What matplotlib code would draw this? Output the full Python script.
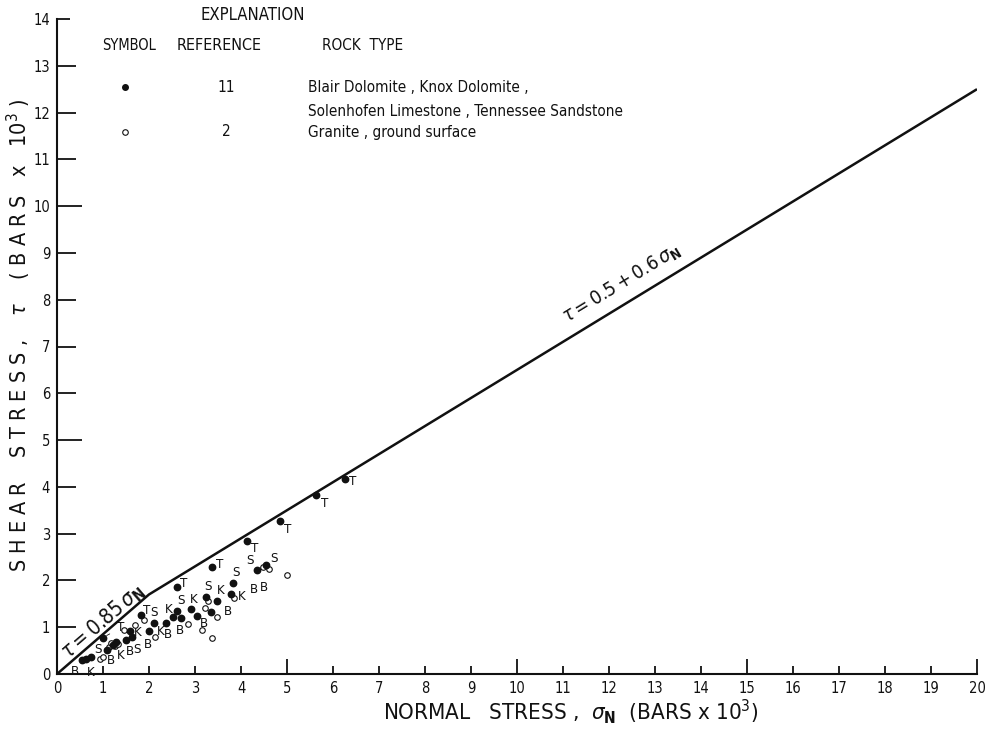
import matplotlib
matplotlib.use('Agg')
import matplotlib.pyplot as plt
import numpy as np
from matplotlib import font_manager

# narrow lettering if we have it
_fonts = font_manager.fontManager.ttflist
_names = {f.name for f in _fonts}
if 'Liberation Sans Narrow' in _names:
    FONT, STRETCH = 'Liberation Sans Narrow', 'normal'
elif any(f.name == 'DejaVu Sans' and f.stretch != 'normal' for f in _fonts):
    FONT, STRETCH = 'DejaVu Sans', 'condensed'
else:
    FONT, STRETCH = 'Liberation Sans', 'normal'
plt.rcParams['font.family'] = [FONT, 'DejaVu Sans']
plt.rcParams['font.stretch'] = STRETCH
plt.rcParams['mathtext.fontset'] = 'dejavusans'

# ── envelope: tau = 0.85 sN, then tau = 0.5 + 0.6 sN ────────────────────────
low_slope = 0.85
high_intercept = 0.5
high_slope = 0.6
sn_max = 20

# ── rock data (kbar) ────────────────────────────────────────────────────────
# filled: Blair / Knox dolomite, Solenhofen limestone, Tennessee sandstone
solid_sn = [0.55, 0.64, 0.74, 1.00, 1.08, 1.22, 1.29, 1.50, 1.58, 1.64,
            1.82, 2.00, 2.11, 2.38, 2.52, 2.60, 2.70, 2.60, 2.92, 3.05,
            3.23, 3.34, 3.36, 3.47, 3.78, 3.83, 4.12, 4.34, 4.54, 4.84,
            5.64, 6.25]
solid_tau = [0.30, 0.33, 0.37, 0.78, 0.52, 0.63, 0.69, 0.72, 0.92, 0.80,
             1.27, 0.92, 1.08, 1.08, 1.21, 1.34, 1.19, 1.87, 1.39, 1.25,
             1.64, 1.32, 2.28, 1.57, 1.72, 1.94, 2.85, 2.22, 2.33, 3.27,
             3.82, 4.17]
solid_rock = ['B', 'K', 'S', 'T', 'B', '', 'K', 'B', 'K', 'S',
              'T', 'B', 'S', 'B', 'K', 'S', 'B', 'T', 'K', 'B',
              'S', '', 'T', 'K', 'K', 'S', 'T', 'S', 'S', 'T',
              'T', 'T']
# open: granite, ground surface
open_sn = [0.93, 0.99, 1.13, 1.18, 1.25, 1.33, 1.45, 1.70, 1.89, 2.14,
           2.85, 3.16, 3.21, 3.29, 3.36, 3.47, 3.85, 4.47, 4.61, 5.01]
open_tau = [0.31, 0.36, 0.57, 0.66, 0.60, 0.64, 0.95, 1.05, 1.16, 0.80,
            1.06, 0.94, 1.42, 1.56, 0.77, 1.22, 1.62, 2.28, 2.24, 2.11]
open_rock = ['', '', '', '', '', '', '', '', '', 'K',
             '', '', '', '', '', 'B', 'B', '', 'B', '']

# letter offsets (points) for each tag
solid_off = [(-5, -8), (3, -10), (5, 5), (13, 7), (3, -8), (0, 0), (3, -10), (3, -8), (6, -1), (3, -9),
             (4, 3), (-1, -10), (0, 8), (1, -8), (-3, 6), (3, 8), (-1, -9), (5, 2), (2, 7), (5, -6),
             (2, 8), (0, 0), (6, 2), (3, 7), (8, -2), (2, 8), (6, -6), (-5, 7), (6, 5), (6, -6),
             (6, -6), (6, -2)]
open_off = [(0, 0), (0, 0), (0, 0), (0, 0), (0, 0), (0, 0), (0, 0), (0, 0), (0, 0), (4, 4),
            (0, 0), (0, 0), (0, 0), (0, 0), (0, 0), (8, 4), (14, 6), (0, 0), (-4, -13), (0, 0)]

INK = '#111111'
W, H = 994, 730


def fpos(x, y):
    return x / W, 1 - y / H


fig = plt.figure(figsize=(W / 100, H / 100), dpi=100)
fig.patch.set_facecolor('white')
ax = fig.add_axes([57 / W, 1 - 674 / H, (977 - 57) / W, (674 - 19) / H])
ax.set_xlim(0, sn_max)
ax.set_ylim(0, 14)

# envelope
sn_break = high_intercept / (low_slope - high_slope)
env_sn = np.array([0, sn_break, sn_max])
env_tau = np.where(env_sn <= sn_break, low_slope * env_sn, high_intercept + high_slope * env_sn)
ax.plot(env_sn, env_tau, color=INK, lw=1.8, solid_capstyle='butt', zorder=3)

ax.plot(open_sn, open_tau, 'o', ms=4, mfc='white', mec=INK, mew=0.8, zorder=4)
ax.plot(solid_sn, solid_tau, 'o', ms=4.6, color=INK, zorder=5)

for x, y, r, (dx, dy) in zip(solid_sn + open_sn, solid_tau + open_tau,
                             solid_rock + open_rock, solid_off + open_off):
    if not r:
        continue
    if r == 'T' and x < 1.5:
        ax.annotate(r, (x, y), xytext=(dx, dy), textcoords='offset points',
                    ha='center', va='center', fontsize=9.5, color=INK,
                    arrowprops=dict(arrowstyle='-', color=INK, lw=0.6, shrinkA=4, shrinkB=3))
    else:
        ax.annotate(r, (x, y), xytext=(dx, dy), textcoords='offset points',
                    ha='center', va='center', fontsize=9.5, color=INK)

# envelope labels, rotated with the lines
ax.text(1.0, 1.12, r'$\tau = 0.85\,\sigma_{\mathbf{N}}$', fontsize=15,
        rotation=np.degrees(np.arctan(low_slope)), rotation_mode='anchor',
        transform_rotates_text=True, ha='center', va='center', color=INK)
ax.text(12.4, high_intercept + high_slope * 12.4 + 0.2, r'$\tau = 0.5 + 0.6\,\sigma_{\mathbf{N}}$',
        fontsize=14, rotation=np.degrees(np.arctan(high_slope)), rotation_mode='anchor',
        transform_rotates_text=True, ha='center', va='bottom', color=INK)

# axes and ticks
for s in ('top', 'right'):
    ax.spines[s].set_visible(False)
for s in ('left', 'bottom'):
    ax.spines[s].set_linewidth(1.5)
    ax.spines[s].set_color(INK)
ax.set_xticks(range(sn_max + 1))
ax.set_yticks(range(15))
ax.tick_params(direction='in', width=1.3, color=INK, labelsize=10.5, labelcolor=INK)
ax.tick_params(axis='x', pad=5)
ax.tick_params(axis='y', pad=5)
for v, t in enumerate(ax.xaxis.get_major_ticks()):
    t.tick1line.set_markersize(11 if v % 5 == 0 else 6)
for v, t in enumerate(ax.yaxis.get_major_ticks()):
    size = 13.5
    if v in (5, 10):
        size = 18
    elif v == 14:
        size = 9
    elif v == 0:
        size = 0
    t.tick1line.set_markersize(size)

fig.text(*fpos(19, 335), r'S H E A R    S T R E S S ,    $\tau$    ( B A R S   x   10$^3$ )',
         rotation=90, ha='center', va='center', fontsize=15.5, color=INK)
fig.text(*fpos(571, 712), r'NORMAL   STRESS ,  $\sigma_{\mathbf{N}}$  (BARS x 10$^3$)',
         ha='center', va='center', fontsize=16, color=INK)

# explanation block
fig.text(*fpos(200, 15), 'EXPLANATION', ha='left', va='center', fontsize=12, color=INK)
fig.text(*fpos(102, 46), 'SYMBOL', ha='left', va='center', fontsize=10.5, color=INK)
fig.text(*fpos(177, 46), 'REFERENCE', ha='left', va='center', fontsize=11.5, color=INK)
fig.text(*fpos(322, 46), 'ROCK  TYPE', ha='left', va='center', fontsize=11, color=INK)

ax.plot(*fpos(125, 87), 'o', ms=4, color=INK, transform=fig.transFigure, clip_on=False)
ax.plot(*fpos(125, 132), 'o', ms=4, mfc='white', mec=INK, mew=0.8,
        transform=fig.transFigure, clip_on=False)
fig.text(*fpos(226, 87), '11', ha='center', va='center', fontsize=11, color=INK)
fig.text(*fpos(226, 132), '2', ha='center', va='center', fontsize=11, color=INK)
fig.text(*fpos(308, 87), 'Blair Dolomite , Knox Dolomite ,', ha='left', va='center',
         fontsize=11, color=INK)
fig.text(*fpos(308, 111), 'Solenhofen Limestone , Tennessee Sandstone', ha='left', va='center',
         fontsize=11, color=INK)
fig.text(*fpos(308, 132), 'Granite , ground surface', ha='left', va='center',
         fontsize=11, color=INK)

fig.savefig('out.png', dpi=100, facecolor='white')
